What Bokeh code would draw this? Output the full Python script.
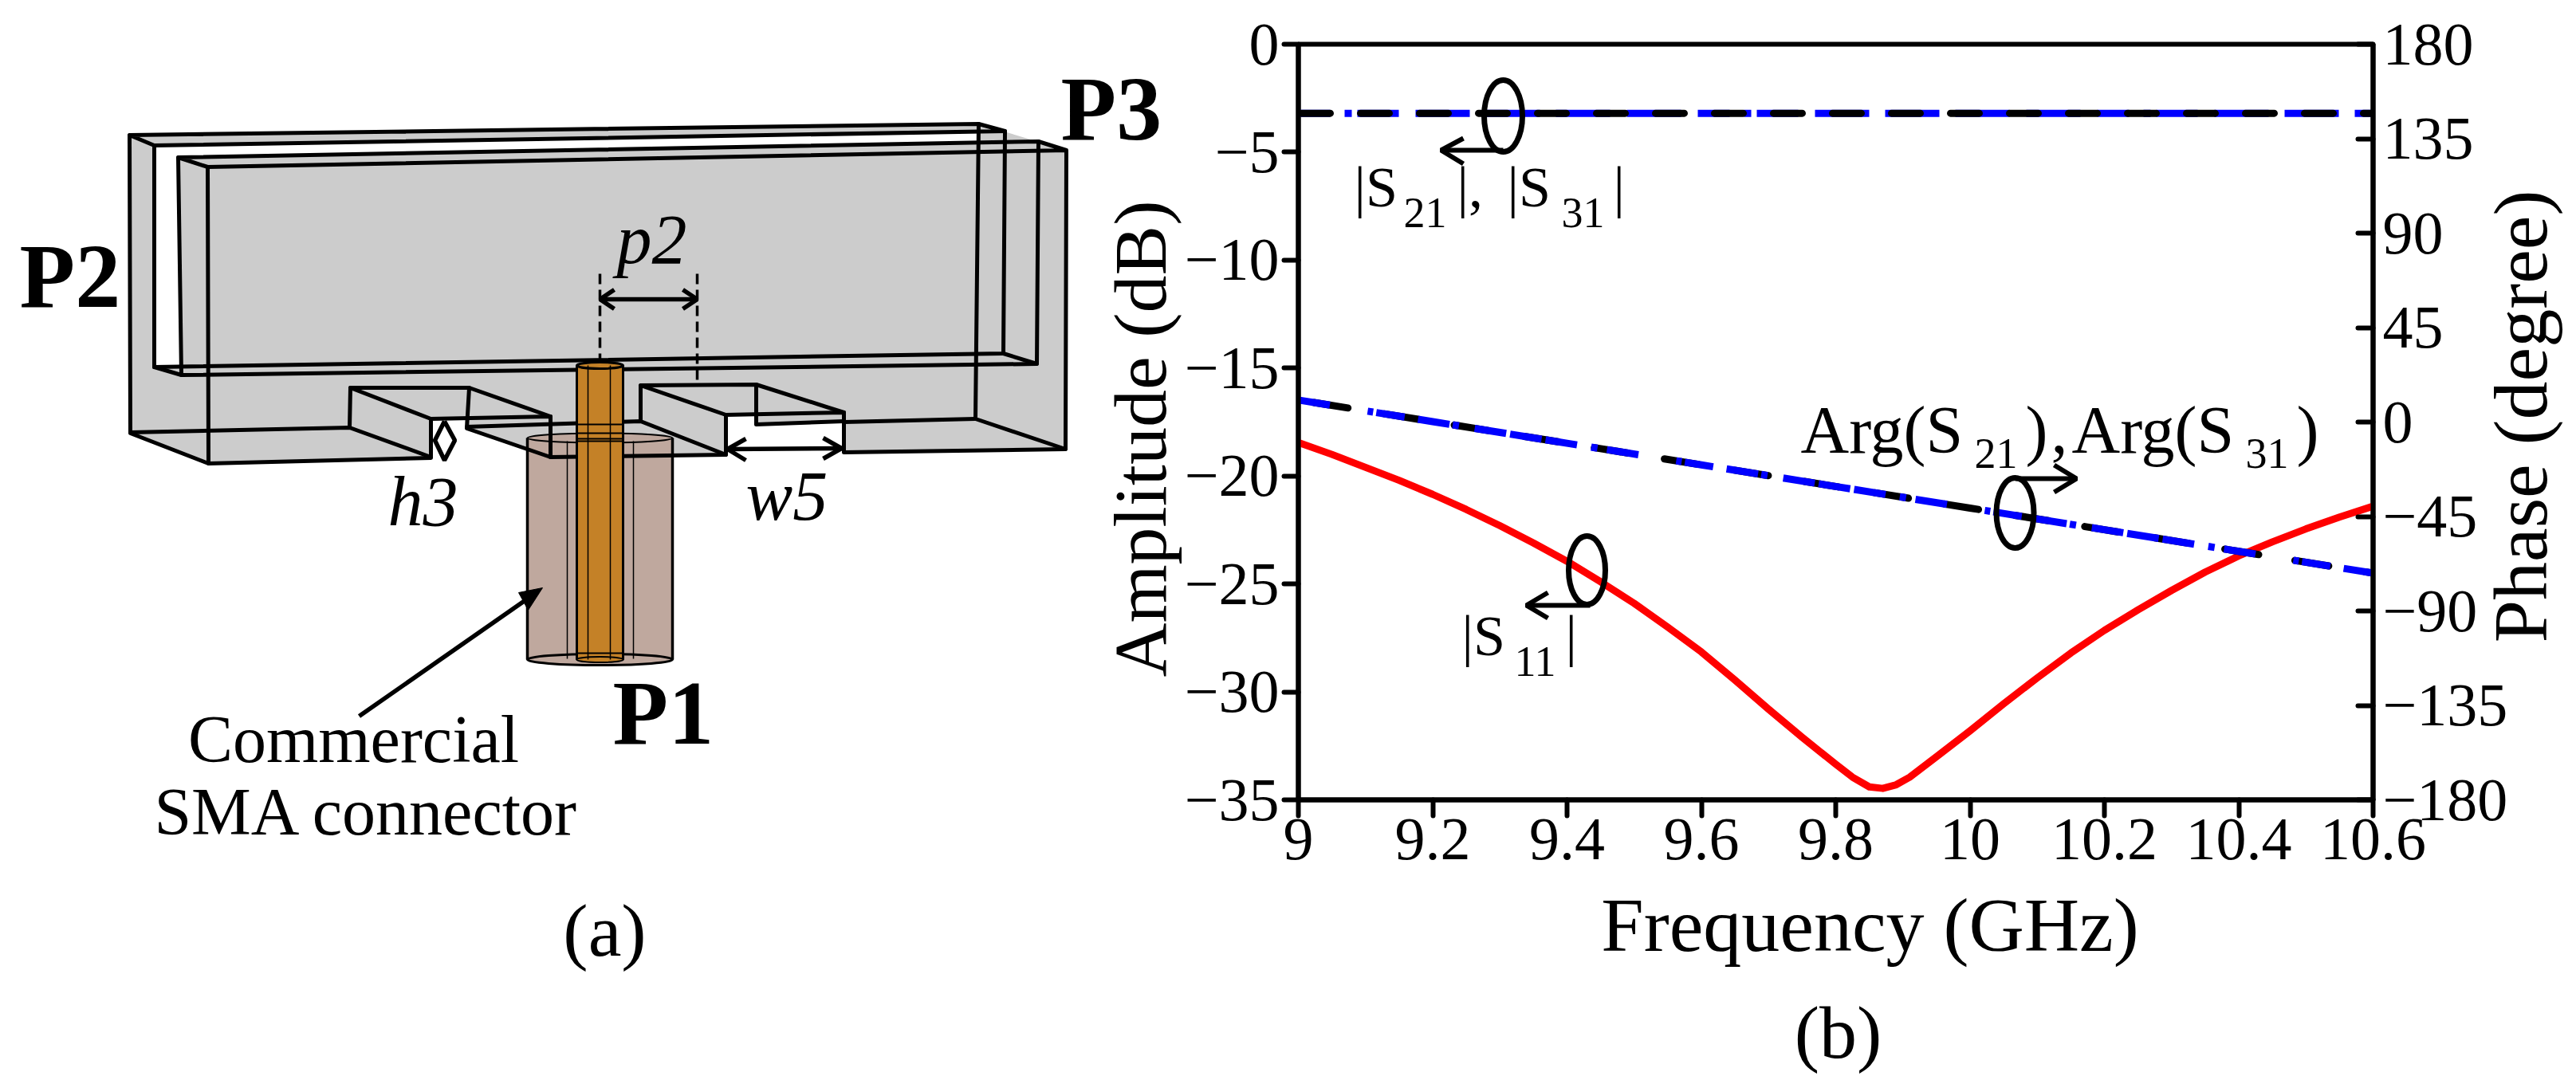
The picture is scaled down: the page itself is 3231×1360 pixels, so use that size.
from bokeh.plotting import figure
from bokeh.layouts import row
from bokeh.models import Range1d, LinearAxis, Label, FixedTicker
from bokeh.embed import file_html
from bokeh.resources import INLINE
import math

# ---------------- chart data (panel b) ----------------
freq_s11 = [9.0, 9.05, 9.1, 9.15, 9.2, 9.25, 9.3, 9.35, 9.4, 9.45, 9.5, 9.55, 9.6, 9.65, 9.7, 9.75, 9.8, 9.825, 9.85,
            9.87, 9.89, 9.91, 9.95, 10.0, 10.05, 10.1, 10.15, 10.2, 10.25, 10.3, 10.35, 10.4, 10.45, 10.5, 10.55, 10.6]
s11_db = [-18.45, -19.0, -19.6, -20.2, -20.85, -21.55, -22.3, -23.1, -23.95, -24.9, -25.9, -27.0, -28.15, -29.45,
          -30.8, -32.1, -33.35, -33.95, -34.4, -34.47, -34.3, -33.95, -33.0, -31.8, -30.55, -29.35, -28.2, -27.15,
          -26.2, -25.3, -24.45, -23.7, -23.05, -22.45, -21.9, -21.4]
freq_flat = [9.0, 9.2, 9.4, 9.6, 9.8, 10.0, 10.2, 10.4, 10.6]
s21_db = [-3.2, -3.2, -3.2, -3.2, -3.2, -3.2, -3.2, -3.2, -3.2]
s31_db = [-3.2, -3.2, -3.2, -3.2, -3.2, -3.2, -3.2, -3.2, -3.2]
arg21_deg = [10.5, 0.2, -10.1, -20.4, -30.7, -41.0, -51.3, -61.6, -72.0]
arg31_deg = [10.5, 0.2, -10.1, -20.4, -30.7, -41.0, -51.3, -61.6, -72.0]
x_ticks = [9.0, 9.2, 9.4, 9.6, 9.8, 10.0, 10.2, 10.4, 10.6]
x_tick_labels = ["9", "9.2", "9.4", "9.6", "9.8", "10", "10.2", "10.4", "10.6"]
db_ticks = [0, -5, -10, -15, -20, -25, -30, -35]
deg_ticks = [180, 135, 90, 45, 0, -45, -90, -135, -180]

FONT = "Liberation Serif"
H = 1352
LEFT_W = 3225
FR_L, FR_R, FR_T, FR_B = 1628, 2976, 55, 1003
S = 1372
RIGHT_W = LEFT_W - S
OVERLAP = RIGHT_W
BASE_SHIFT = 0.32  # the text box sits this many ems below the requested baseline


def minus(v):
    return str(v).replace("-", "\u2212")


# ---------------- panel (a) and page texts: drawn in picture pixels ----------------
left = figure(width=LEFT_W, height=H, x_range=Range1d(0, LEFT_W), y_range=Range1d(H, 0),
              x_axis_type=None, y_axis_type=None, toolbar_location=None, output_backend="svg",
              min_border=0, outline_line_color=None, background_fill_color=None, border_fill_color=None,
              frame_align=False)
left.grid.visible = False

body = [(162, 169), (1227, 155), (1337, 188), (1336, 563), (1058, 567), (1058, 528), (948, 532), (948, 521),
        (910, 522), (910, 570), (690, 573), (583, 537), (583, 524), (540, 525), (540, 573), (261, 581), (163, 543)]
slot = [(193, 182), (1225, 166), (1225, 178), (223, 197), (227, 457), (193, 460)]
left.patch([p[0] for p in body], [p[1] for p in body], fill_color="#CCCCCC", line_color=None)
left.patch([p[0] for p in slot], [p[1] for p in slot], fill_color="#FFFFFF", line_color=None)

# connector body
left.quad(left=661, right=843, top=549, bottom=827, fill_color="#BFA89E", line_color=None)
left.ellipse(x=752, y=827, width=182, height=14, fill_color="#BFA89E", line_color="black", line_width=3)
left.ellipse(x=752, y=549, width=182, height=12, fill_color="#BFA89E", line_color="black", line_width=2)

thick = [
    [(162, 169), (1227, 155), (1260, 164), (193, 182), (162, 169)],
    [(162, 169), (163, 543), (261, 581), (540, 574), (540, 525), (690, 522), (690, 573), (910, 570), (910, 520), (1058, 517), (1058, 567), (1336, 563), (1337, 188), (1302, 177), (223, 197), (260, 209), (1337, 188)],
    [(193, 182), (193, 460), (1258, 443), (1260, 164)],
    [(223, 197), (227, 470), (1300, 456), (1302, 177)],
    [(193, 460), (227, 470)],
    [(1258, 443), (1300, 456)],
    [(260, 209), (261, 581)],
    [(1227, 155), (1223, 525), (1336, 563)],
    [(163, 542), (438, 536), (540, 573)],
    [(1223, 525), (1058, 529)],
    [(438, 536), (439, 486), (588, 486), (690, 522)],
    [(439, 486), (540, 525)],
    [(588, 486), (585, 537), (690, 573)],
    [(585, 535), (803, 528), (910, 570)],
    [(803, 528), (803, 483), (948, 482), (1058, 517)],
    [(803, 483), (910, 520)],
    [(948, 482), (948, 532), (1058, 528)],
]
left.multi_line([[p[0] for p in s] for s in thick], [[p[1] for p in s] for s in thick],
                line_color="black", line_width=5, line_join="round", line_cap="round")

# connector outline and pin
left.multi_line([[661, 661], [843, 843]], [[549, 827], [549, 827]], line_color="black", line_width=3.5)
left.multi_line([[711, 711], [794, 794]], [[553, 826], [553, 826]], line_color="black", line_width=1.5)
left.quad(left=723, right=781, top=458, bottom=827, fill_color="#C48127", line_color="black", line_width=3)
left.ellipse(x=752, y=458, width=58, height=8, fill_color="#C48127", line_color="black", line_width=3)
left.ellipse(x=752, y=827, width=58, height=7, fill_color="#C48127", line_color="black", line_width=2)
left.multi_line([[737, 737], [765, 765]], [[458, 827], [458, 827]], line_color="black", line_width=1.5)
rings = [532, 543, 550, 553, 819]
left.multi_line([[723, 781] for _ in rings], [[r, r] for r in rings], line_color="black", line_width=2)

# dimension marks
left.line([752, 752], [343, 455], line_color="black", line_width=3.5, line_dash=[13, 7])
left.line([874, 874], [343, 483], line_color="black", line_width=3.5, line_dash=[13, 7])
marks = [
    [(752, 375), (874, 375)], [(770, 363), (752, 375), (770, 387)], [(856, 363), (874, 375), (856, 387)],
    [(912, 563), (1055, 562)], [(935, 550), (912, 563), (935, 577)], [(1032, 549), (1055, 562), (1032, 575)],
    [(557, 528), (545, 552), (557, 577), (570, 552), (557, 528)],
    [(450, 898), (665, 748)],
]
left.multi_line([[p[0] for p in s] for s in marks], [[p[1] for p in s] for s in marks],
                line_color="black", line_width=5.5)
left.patch([680, 650, 662], [737, 743, 765], fill_color="black", line_color="black", line_width=1)

page_texts = [
    ("P2", 24, 382, 114, "bold", "left", 0.0),
    ("P3", 1330, 172, 114, "bold", "left", 0.0),
    ("P1", 768, 930, 114, "bold", "left", 0.0),
    ("p2", 773, 328, 88, "italic", "left", 0.0),
    ("h3", 486, 657, 88, "italic", "left", 0.0),
    ("w5", 935, 650, 88, "italic", "left", 0.0),
    ("Commercial", 443, 954, 84, "normal", "center", 0.0),
    ("SMA connector", 460, 1045, 84, "normal", "center", 0.0),
    ("(a)", 758, 1197, 94, "normal", "center", 0.0),
    ("Frequency (GHz)", 2345, 1191, 96, "normal", "center", 0.0),
    ("(b)", 2305, 1325, 94, "normal", "center", 0.0),
    ("Amplitude (dB)", 1460, 550, 94, "normal", "center", math.pi / 2),
    ("Phase (degree)", 3192, 522, 96, "normal", "center", math.pi / 2),
]
for t, x, y, size, style, align, ang in page_texts:
    if ang:
        x -= BASE_SHIFT * size
    else:
        y -= BASE_SHIFT * size
    left.add_layout(Label(x=x, y=y, text=t, text_font=FONT, text_font_size=f"{size}px", text_font_style=style,
                          text_align=align, text_baseline="alphabetic", text_color="black", angle=ang))

# ---------------- panel (b) ----------------
p = figure(x_range=Range1d(9, 10.6), y_range=Range1d(-35, 0), width=RIGHT_W, height=H,
           toolbar_location=None, output_backend="svg", min_border_left=FR_L - S, min_border_top=FR_T,
           min_border_bottom=H - FR_B, min_border_right=S + RIGHT_W - FR_R,
           background_fill_color=None, border_fill_color=None, outline_line_color="black", outline_line_width=6,
           frame_align=False)
p.margin = (0, 0, 0, -OVERLAP)
p.grid.visible = False
p.extra_y_ranges = {"phase": Range1d(-180, 180)}


def style_axis(ax):
    ax.axis_line_color = "black"
    ax.axis_line_width = 6
    ax.major_tick_line_color = "black"
    ax.major_tick_line_width = 6
    ax.major_tick_line_cap = "round"
    ax.minor_tick_line_color = None
    ax.major_label_text_font = FONT
    ax.major_label_text_font_size = "76px"
    ax.major_label_text_color = "black"


xa = p.xaxis[0]
style_axis(xa)
xa.ticker = FixedTicker(ticks=x_ticks)
xa.major_label_overrides = dict(zip(x_ticks, x_tick_labels))
xa.major_tick_in = 0
xa.major_tick_out = 20
xa.major_label_standoff = 4

ya = p.yaxis[0]
style_axis(ya)
ya.ticker = FixedTicker(ticks=db_ticks)
ya.major_label_overrides = {v: minus(v) for v in db_ticks}
ya.major_tick_in = 0
ya.major_tick_out = 18
ya.major_label_standoff = 6

ra = LinearAxis(y_range_name="phase")
style_axis(ra)
ra.ticker = FixedTicker(ticks=deg_ticks)
ra.major_label_overrides = {v: minus(v) for v in deg_ticks}
ra.major_tick_in = 19
ra.major_tick_out = 0
ra.major_label_standoff = 12
p.add_layout(ra, "right")

BLUE = "#0000FF"
p.line(freq_s11, s11_db, line_color="#FF0000", line_width=9, line_join="round")
p.line(freq_flat, s31_db, line_color=BLUE, line_width=9,
       line_dash=[40, 18, 9, 7, 52, 21, 68, 20, 68, 20, 68, 21, 68, 21])
p.line(freq_flat, s21_db, line_color="black", line_width=9, line_dash=[36, 38], line_cap="round", line_dash_offset=-4)
p.line(freq_flat, arg21_deg, y_range_name="phase", line_color="black", line_width=9, line_dash=[43, 46], line_cap="round", line_dash_offset=-20)
p.line(freq_flat, arg31_deg, y_range_name="phase", line_color=BLUE, line_width=9,
       line_dash=[40, 48, 7, 4, 36, 17, 40, 4, 8, 20, 40, 5, 40, 5, 40, 18, 8, 12])


def fx(px):
    return 9 + (px - FR_L) * 1.6 / (FR_R - FR_L)


def dy(py):
    return -(py - FR_T) * 35 / (FR_B - FR_T)


rings_b = [(1885, 145, 48, 90), (1990, 715, 46, 86), (2527, 643, 47, 88)]
p.ellipse(x=[fx(r[0]) for r in rings_b], y=[dy(r[1]) for r in rings_b], width=[r[2] for r in rings_b],
          height=[r[3] for r in rings_b], width_units="screen", height_units="screen",
          fill_color=None, line_color="black", line_width=7)
arrows = [
    [(1885, 188), (1807, 188)], [(1835, 173), (1807, 188), (1835, 205)],
    [(1994, 759), (1914, 759)], [(1941, 743), (1914, 759), (1941, 775)],
    [(2527, 600), (2604, 600)], [(2576, 583), (2604, 600), (2576, 617)],
]
p.multi_line([[fx(q[0]) for q in s] for s in arrows], [[dy(q[1]) for q in s] for s in arrows],
             line_color="black", line_width=6)

b_texts = [
    ("|S", 1698, 258, 72), ("21", 1760, 284, 54), ("|,", 1827, 258, 72), ("|S", 1890, 258, 72),
    ("31", 1958, 284, 54), ("|", 2023, 258, 72),
    ("|S", 1833, 821, 72), ("11", 1899, 847, 54), ("|", 1963, 821, 72),
    ("Arg(S", 2258, 566, 84), ("21", 2476, 586, 54), (")", 2540, 566, 84), (",", 2572, 566, 84),
    ("Arg(S", 2598, 566, 84), ("31", 2816, 586, 54), (")", 2880, 566, 84),
]
for t, x, y, size in b_texts:
    p.add_layout(Label(x=fx(x), y=dy(y - BASE_SHIFT * size), text=t, text_font=FONT, text_font_size=f"{size}px",
                       text_align="left", text_baseline="alphabetic", text_color="black"))

layout = row(left, p, spacing=0)
open("out.html", "w").write(file_html(layout, INLINE))
